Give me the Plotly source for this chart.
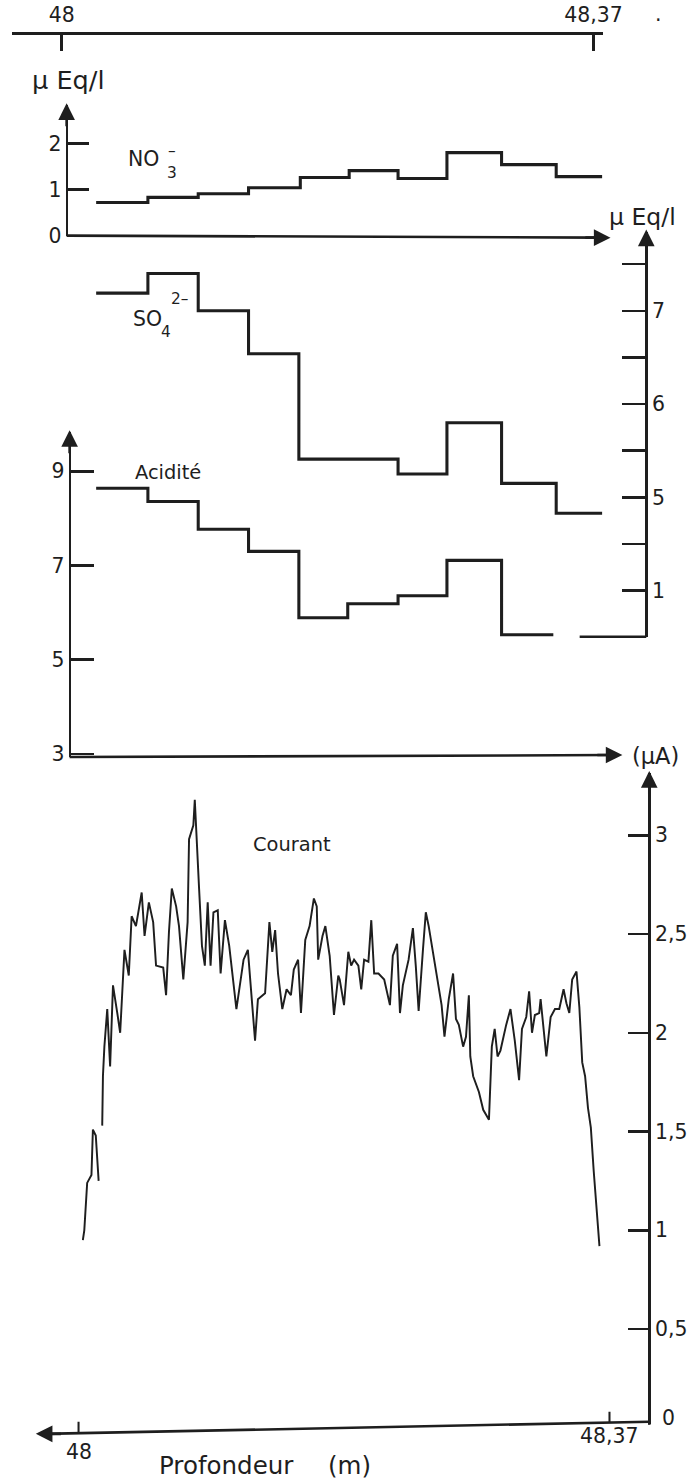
import plotly.graph_objects as go

# ---------------- data ----------------
depth_tick_values = [48.0, 48.37]
depth_tick_text = ["48", "48,37"]

no3_bounds = [48.024, 48.060, 48.095, 48.130, 48.166, 48.200, 48.234, 48.268, 48.306, 48.344, 48.376]
no3_values = [0.72, 0.83, 0.91, 1.04, 1.26, 1.41, 1.24, 1.80, 1.54, 1.28]
no3_ticks = [0, 1, 2]

so4_bounds = [48.024, 48.060, 48.095, 48.130, 48.165, 48.234, 48.268, 48.306, 48.344, 48.376]
so4_values = [7.19, 7.40, 7.00, 6.54, 5.41, 5.25, 5.80, 5.15, 4.83]
so4_ticks = [7.5, 7, 6.5, 6, 5.5, 5, 4.5, 4]
so4_tick_text = ["", "7", "", "6", "", "5", "", "1"]

acid_bounds = [48.024, 48.060, 48.095, 48.130, 48.165, 48.199, 48.234, 48.268, 48.306, 48.342]
acid_values = [8.64, 8.36, 7.77, 7.30, 5.89, 6.19, 6.36, 7.11, 5.53]
acid_ticks = [3, 5, 7, 9]

courant_depth = [
    48.003, 48.004, 48.006, 48.009, 48.010, 48.012, 48.014, None,
    48.0165, 48.017, 48.018, 48.020, 48.022, 48.024, 48.027, 48.029, 48.032, 48.035,
    48.037, 48.040, 48.044, 48.046, 48.049, 48.052, 48.054, 48.059, 48.061, 48.063,
    48.065, 48.068, 48.070, 48.073, 48.076, 48.077, 48.080, 48.081, 48.084, 48.086,
    48.088, 48.090, 48.092, 48.094, 48.097, 48.099, 48.102, 48.105, 48.110, 48.115,
    48.118, 48.121, 48.123, 48.125, 48.130, 48.133, 48.135, 48.137, 48.139, 48.142,
    48.145, 48.148, 48.150, 48.153, 48.155, 48.158, 48.161, 48.164, 48.166, 48.167,
    48.170, 48.172, 48.175, 48.178, 48.181, 48.182, 48.185, 48.188, 48.190, 48.192,
    48.195, 48.197, 48.199, 48.202, 48.204, 48.206, 48.209, 48.213, 48.217, 48.219,
    48.222, 48.224, 48.226, 48.230, 48.233, 48.235, 48.237, 48.240, 48.242, 48.244,
    48.248, 48.251, 48.253, 48.255, 48.258, 48.261, 48.263, 48.265, 48.268, 48.270,
    48.272, 48.273, 48.275, 48.279, 48.282, 48.286, 48.288, 48.290, 48.292, 48.294,
    48.298, 48.301, 48.304, 48.307, 48.309, 48.312, 48.314, 48.316, 48.318, 48.321,
    48.322, 48.326, 48.329, 48.332, 48.335, 48.338, 48.340, 48.342, 48.344, 48.347,
    48.349, 48.351, 48.353, 48.355, 48.357, 48.359, 48.363,
]
courant_value = [
    0.95, 1.00, 1.24, 1.28, 1.51, 1.48, 1.25, None,
    1.53, 1.78, 1.93, 2.12, 1.83, 2.24, 2.10, 2.00, 2.42, 2.29,
    2.59, 2.54, 2.71, 2.49, 2.66, 2.56, 2.34, 2.33, 2.19, 2.51,
    2.73, 2.64, 2.54, 2.27, 2.56, 2.98, 3.05, 3.18, 2.73, 2.44,
    2.34, 2.66, 2.34, 2.61, 2.62, 2.30, 2.57, 2.44, 2.12, 2.37,
    2.42, 2.17, 1.96, 2.17, 2.20, 2.56, 2.41, 2.52, 2.30, 2.12,
    2.22, 2.19, 2.32, 2.37, 2.10, 2.47, 2.54, 2.68, 2.64, 2.37,
    2.49, 2.54, 2.39, 2.09, 2.29, 2.27, 2.14, 2.41, 2.34, 2.37,
    2.34, 2.22, 2.37, 2.36, 2.57, 2.30, 2.30, 2.27, 2.14, 2.39,
    2.45, 2.10, 2.24, 2.37, 2.53, 2.34, 2.11, 2.42, 2.61, 2.54,
    2.37, 2.24, 2.14, 1.98, 2.17, 2.30, 2.07, 2.04, 1.93, 1.98,
    2.19, 1.88, 1.78, 1.70, 1.61, 1.56, 1.93, 2.02, 1.88, 1.91,
    2.04, 2.12, 1.96, 1.76, 2.02, 2.08, 2.21, 2.00, 2.09, 2.10,
    2.17, 1.88, 2.08, 2.12, 2.12, 2.22, 2.15, 2.10, 2.27, 2.31,
    2.13, 1.85, 1.78, 1.62, 1.52, 1.30, 0.92,
]
courant_ticks = [0, 0.5, 1, 1.5, 2, 2.5, 3]
courant_tick_text = ["0", "0,5", "1", "1,5", "2", "2,5", "3"]

# ---------------- layout helpers ----------------
# design coordinates are those of the 699x1482 reference; the figure is
# drawn slightly larger because the page is captured with its margins.
W, H = 699, 1482
FIG_W, FIG_H = 715, 1498
S = FIG_W / W
INK = "#1e1e1e"
FONT = "DejaVu Sans"


def px(x):
    return x / W


def py(y):
    return 1 - y / H


def sz(v):
    return v * S


top_ppm = (597 - 62) / 0.37
top_range = [48 - (62 - 12) / top_ppm, 48 + (606 - 62) / top_ppm]
bot_ppm = (613 - 79) / 0.37
bot_range = [48 - (79 - 40) / bot_ppm, 48 + (653 - 79) / bot_ppm]

common = dict(showline=True, linecolor=INK, linewidth=sz(2.5), ticks="inside",
              tickcolor=INK, tickwidth=sz(2.5), showgrid=False, zeroline=False,
              tickfont=dict(family=FONT, size=sz(20), color=INK), fixedrange=True)

fig = go.Figure()


def steps(bounds, values):
    return bounds, values + [values[-1]]


x, y = steps(no3_bounds, no3_values)
fig.add_trace(go.Scatter(x=x, y=y, mode="lines", line=dict(shape="hv", color=INK, width=sz(3)),
                         xaxis="x", yaxis="y", showlegend=False, hoverinfo="skip"))
x, y = steps(so4_bounds, so4_values)
fig.add_trace(go.Scatter(x=x, y=y, mode="lines", line=dict(shape="hv", color=INK, width=sz(3)),
                         xaxis="x", yaxis="y2", showlegend=False, hoverinfo="skip"))
x, y = steps(acid_bounds, acid_values)
fig.add_trace(go.Scatter(x=x, y=y, mode="lines", line=dict(shape="hv", color=INK, width=sz(3)),
                         xaxis="x", yaxis="y3", showlegend=False, hoverinfo="skip"))
fig.add_trace(go.Scatter(x=courant_depth, y=courant_value, mode="lines",
                         line=dict(color=INK, width=sz(1.9)), connectgaps=False,
                         xaxis="x2", yaxis="y4", showlegend=False, hoverinfo="skip"))

fig.update_layout(
    width=FIG_W, height=FIG_H, autosize=False,
    margin=dict(l=0, r=0, t=0, b=0),
    paper_bgcolor="white", plot_bgcolor="rgba(0,0,0,0)",
    xaxis=dict(common, domain=[px(12), px(606)], range=top_range, anchor="free",
               position=py(33), side="top", ticklen=sz(16), tickvals=depth_tick_values,
               ticktext=depth_tick_text, ticklabelstandoff=2),
    xaxis2=dict(domain=[px(40), px(653)], range=bot_range, anchor="free",
                position=py(1424), visible=False, fixedrange=True),
    yaxis=dict(common, domain=[py(235), py(105)], range=[0, 130 / 46], anchor="free",
               position=px(67), side="left", ticklen=sz(20), tickvals=no3_ticks),
    yaxis2=dict(common, domain=[py(635), py(231)],
                range=[7 - (635 - 310) / 93, 7 + (310 - 231) / 93], anchor="free",
                position=px(650), side="right", ticklen=sz(23), tickvals=so4_ticks,
                ticktext=so4_tick_text),
    yaxis3=dict(common, domain=[py(755), py(431)],
                range=[7 - (755 - 564) / 47, 7 + (564 - 431) / 47], anchor="free",
                position=px(70), side="left", ticklen=sz(22), tickvals=acid_ticks),
    yaxis4=dict(common, domain=[py(1420), py(771)], range=[(1424 - 1420) / 197, (1424 - 771) / 197],
                anchor="free", position=px(653), side="right", ticklen=sz(20),
                tickvals=courant_ticks, ticktext=courant_tick_text),
)

# extra axis lines (hand-drawn, slightly sloping)
for (x0, y0, x1, y1) in [(67, 235, 602, 237), (70, 755, 614, 753), (583, 635, 650, 635),
                         (653, 1418, 44, 1430), (653, 1418, 653, 1421)]:
    fig.add_shape(type="line", xref="paper", yref="paper", x0=px(x0), y0=py(y0),
                  x1=px(x1), y1=py(y1), line=dict(color=INK, width=sz(2.5)))

# bottom depth ticks and their labels, placed on the depth scale
bottom_tick_base = [1429, 1419]
bottom_label_y = [1448, 1432]
for d, t, yb, yl in zip(depth_tick_values, depth_tick_text, bottom_tick_base, bottom_label_y):
    fig.add_shape(type="line", xref="x2", yref="paper", x0=d, x1=d, y0=py(yb), y1=py(yb - 11),
                  line=dict(color=INK, width=sz(2)))
    fig.add_annotation(x=d, y=py(yl), xref="x2", yref="paper", text=t, showarrow=False,
                       xanchor="center", yanchor="middle",
                       font=dict(family=FONT, size=sz(20), color=INK))

# arrow heads
for (tx, ty, ax, ay) in [(67, 103, 0, 24), (614, 237, -26, 0), (650, 229, 0, 24),
                         (70, 429, 0, 24), (626, 753, -26, 0), (653, 769, 0, 24),
                         (36, 1430, 26, 0)]:
    fig.add_annotation(x=px(tx), y=py(ty), xref="paper", yref="paper", ax=sz(ax), ay=sz(ay),
                       text="", showarrow=True, arrowhead=2, arrowsize=1.3,
                       arrowwidth=sz(2.5), arrowcolor=INK, standoff=0)

# text labels
labels = [
    ("µ Eq/l", 68, 80, 25),
    ("NO", 144, 159, 20), ("3", 173, 173, 15), ("\u2013", 173, 151, 15),
    ("SO", 148, 318, 20), ("4", 167, 331, 15), ("2\u2013", 181, 298, 15),
    ("Acidité", 169, 471, 19),
    ("Courant", 294, 842, 19),
    ("µ Eq/l", 646, 216, 23),
    ("(µA)", 659, 754, 22),
    ("Profondeur", 228, 1462, 24), ("(m)", 352, 1462, 24),
    ("0", 672, 1414, 20),
    ("·", 662, 20, 20),
]
for (t, cx, cy, s) in labels:
    fig.add_annotation(x=px(cx), y=py(cy), xref="paper", yref="paper", text=t,
                       showarrow=False, xanchor="center", yanchor="middle",
                       font=dict(family=FONT, size=sz(s), color=INK))

fig.write_html(
    "out.html",
    config={"displayModeBar": False, "staticPlot": True},
    post_script=("document.documentElement.style.margin='0';"
                 "document.documentElement.style.padding='0';"
                 "document.documentElement.style.overflow='hidden';"
                 "document.body.style.margin='0';"
                 "document.body.style.padding='0';"
                 "document.body.style.overflow='hidden';"),
)
